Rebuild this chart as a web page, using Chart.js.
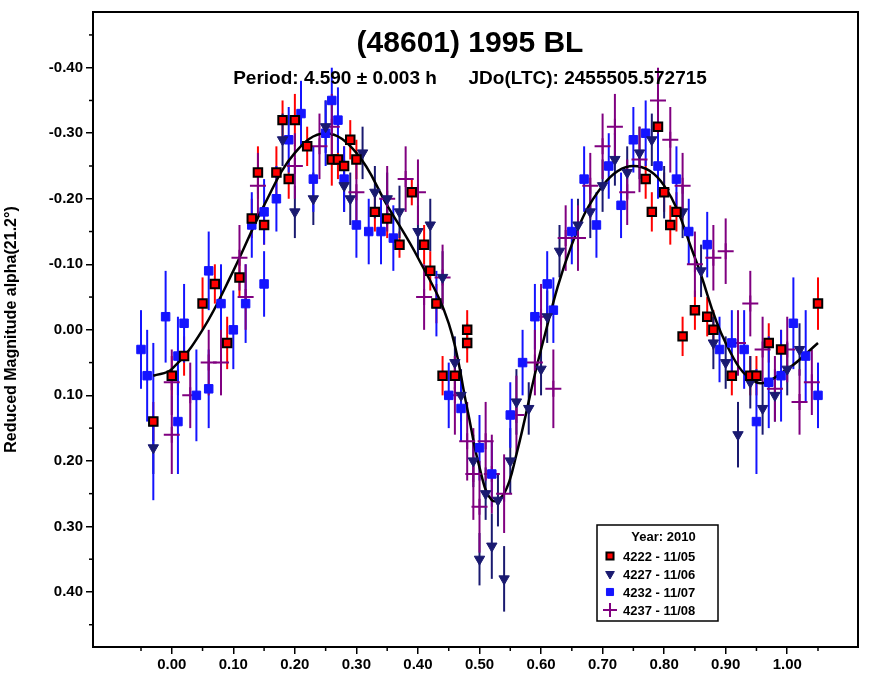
<!DOCTYPE html>
<html lang="en">
<head>
<meta charset="UTF-8">
<title>(48601) 1995 BL</title>
<script src="https://cdn.jsdelivr.net/npm/chart.js"></script>
<style>
  body { margin: 0; background: #fff; }
  canvas { display: block; }
</style>
</head>
<body>
<canvas id="lc" width="874" height="679"></canvas>
<script>
// [phase, reduced mag, error]
const s4222 = [[-0.03,0.14,0.03],[0.0,0.07,0.03],[0.02,0.04,0.03],[0.05,-0.04,0.04],[0.07,-0.07,0.03],[0.09,0.02,0.04],
  [0.11,-0.08,0.03],[0.13,-0.17,0.03],[0.14,-0.24,0.04],[0.15,-0.16,0.03],[0.17,-0.24,0.04],[0.18,-0.32,0.03],[0.19,-0.23,0.03],
  [0.20,-0.32,0.04],[0.22,-0.28,0.03],[0.26,-0.26,0.04],[0.27,-0.26,0.03],[0.28,-0.25,0.03],[0.29,-0.29,0.03],[0.30,-0.26,0.03],
  [0.33,-0.18,0.03],[0.35,-0.17,0.03],[0.37,-0.13,0.02],[0.39,-0.21,0.02],[0.41,-0.13,0.03],[0.42,-0.09,0.03],[0.43,-0.04,0.03],
  [0.44,0.07,0.03],[0.46,0.07,0.03],[0.48,0.0,0.03],[0.48,0.02,0.03],[0.77,-0.23,0.03],[0.78,-0.18,0.03],[0.79,-0.31,0.03],
  [0.80,-0.21,0.03],[0.81,-0.16,0.03],[0.82,-0.18,0.03],[0.83,0.01,0.03],[0.85,-0.03,0.03],[0.87,-0.02,0.03],[0.88,0.0,0.03],
  [0.91,0.07,0.03],[0.94,0.07,0.03],[0.95,0.07,0.03],[0.97,0.02,0.03],[0.99,0.03,0.03],[1.05,-0.04,0.04]];
const s4227 = [[-0.03,0.18,0.04],[0.18,-0.29,0.04],[0.20,-0.18,0.04],[0.23,-0.20,0.04],[0.25,-0.31,0.04],[0.28,-0.22,0.04],
  [0.29,-0.20,0.04],[0.31,-0.27,0.04],[0.33,-0.21,0.04],[0.35,-0.20,0.04],[0.37,-0.18,0.04],[0.40,-0.15,0.04],[0.42,-0.16,0.04],
  [0.44,-0.08,0.04],[0.46,0.05,0.04],[0.47,0.10,0.04],[0.49,0.20,0.04],[0.50,0.35,0.04],[0.51,0.25,0.04],[0.52,0.33,0.05],
  [0.53,0.26,0.04],[0.54,0.38,0.05],[0.55,0.20,0.05],[0.56,0.11,0.05],[0.58,0.12,0.04],[0.60,0.06,0.04],[0.61,-0.02,0.04],
  [0.63,-0.12,0.04],[0.66,-0.16,0.04],[0.68,-0.18,0.04],[0.70,-0.22,0.04],[0.72,-0.26,0.04],[0.74,-0.24,0.04],[0.76,-0.27,0.04],
  [0.78,-0.29,0.04],[0.80,-0.21,0.04],[0.83,-0.18,0.04],[0.86,-0.09,0.04],[0.88,0.02,0.04],[0.90,0.05,0.04],[0.92,0.16,0.05],
  [0.94,0.08,0.04],[0.96,0.12,0.04],[0.98,0.10,0.04],[1.00,0.06,0.04],[1.02,0.03,0.04]];
const s4232 = [[-0.05,0.03,0.06],[-0.04,0.07,0.07],[-0.03,0.14,0.12],[-0.01,-0.02,0.07],[0.01,0.14,0.08],[0.01,0.04,0.06],
  [0.02,-0.01,0.06],[0.04,0.10,0.07],[0.06,-0.09,0.06],[0.06,0.09,0.06],[0.08,-0.04,0.06],[0.10,0.0,0.06],[0.12,-0.04,0.06],
  [0.13,-0.16,0.05],[0.15,-0.18,0.05],[0.15,-0.07,0.05],[0.17,-0.20,0.05],[0.19,-0.29,0.05],[0.21,-0.33,0.05],[0.23,-0.23,0.05],
  [0.25,-0.30,0.05],[0.26,-0.35,0.05],[0.27,-0.32,0.05],[0.28,-0.23,0.05],[0.30,-0.16,0.05],[0.32,-0.15,0.05],[0.34,-0.15,0.05],
  [0.36,-0.14,0.05],[0.43,-0.04,0.05],[0.45,0.10,0.05],[0.47,0.12,0.05],[0.50,0.18,0.05],[0.52,0.22,0.05],[0.55,0.13,0.05],
  [0.57,0.05,0.05],[0.59,-0.02,0.05],[0.61,-0.07,0.05],[0.62,-0.03,0.05],[0.65,-0.15,0.05],[0.67,-0.23,0.05],[0.69,-0.16,0.05],
  [0.71,-0.25,0.05],[0.73,-0.19,0.05],[0.75,-0.29,0.05],[0.77,-0.30,0.05],[0.79,-0.25,0.05],[0.82,-0.23,0.05],[0.84,-0.15,0.05],
  [0.87,-0.13,0.05],[0.89,0.03,0.05],[0.91,0.02,0.05],[0.93,0.03,0.06],[0.95,0.14,0.08],[0.97,0.08,0.07],[0.99,0.07,0.07],
  [1.01,-0.01,0.07],[1.03,0.04,0.07],[1.05,0.10,0.05]];
const s4237 = [[0.0,0.08,0.05],[0.0,0.16,0.06],[0.03,0.10,0.05],[0.06,0.05,0.05],[0.08,0.05,0.05],[0.11,-0.11,0.05],
  [0.12,-0.05,0.05],[0.14,-0.22,0.05],[0.20,-0.25,0.05],[0.24,-0.28,0.05],[0.26,-0.31,0.05],[0.30,-0.21,0.05],[0.35,-0.20,0.05],
  [0.38,-0.23,0.05],[0.40,-0.21,0.05],[0.41,-0.05,0.05],[0.44,-0.08,0.05],[0.46,0.10,0.06],[0.48,0.17,0.06],[0.49,0.22,0.07],
  [0.50,0.27,0.07],[0.51,0.17,0.06],[0.52,0.22,0.06],[0.54,0.25,0.06],[0.56,0.13,0.06],[0.59,0.05,0.05],[0.60,-0.02,0.05],
  [0.62,0.09,0.06],[0.64,-0.14,0.05],[0.66,-0.14,0.05],[0.68,-0.22,0.05],[0.70,-0.28,0.05],[0.72,-0.31,0.05],[0.74,-0.21,0.05],
  [0.76,-0.26,0.05],[0.79,-0.35,0.05],[0.81,-0.29,0.05],[0.83,-0.22,0.05],[0.85,-0.10,0.05],[0.88,-0.11,0.05],[0.90,-0.12,0.05],
  [0.92,0.02,0.05],[0.94,-0.04,0.05],[0.96,0.03,0.05],[0.98,0.09,0.05],[1.00,0.03,0.05],[1.02,0.11,0.05],[1.04,0.08,0.05]];
const fitCurve = [[-0.03,0.07],[0.0,0.06],[0.05,0.0],[0.1,-0.09],[0.15,-0.19],[0.2,-0.27],[0.25,-0.30],[0.3,-0.27],
  [0.35,-0.19],[0.4,-0.11],[0.45,-0.01],[0.48,0.12],[0.5,0.21],[0.52,0.26],[0.54,0.25],[0.56,0.19],[0.6,0.03],
  [0.65,-0.13],[0.7,-0.22],[0.75,-0.25],[0.8,-0.22],[0.85,-0.11],[0.9,0.02],[0.95,0.08],[1.0,0.06],[1.05,0.02]];
const xTicks = [0, 0.1, 0.2, 0.3, 0.4, 0.5, 0.6, 0.7, 0.8, 0.9, 1.0];
const yTicks = [-0.4, -0.3, -0.2, -0.1, 0, 0.1, 0.2, 0.3, 0.4];
const legendLabels = ["4222 - 11/05", "4227 - 11/06", "4232 - 11/07", "4237 - 11/08"];

const toPts = arr => arr.map(p => ({ x: p[0], y: p[1], e: p[2] }));
const font = { family: "Arial, 'Liberation Sans', sans-serif", weight: "bold" };

const series = [
  { label: legendLabels[0], data: toPts(s4222), pointStyle: "rect", pointRadius: 6, backgroundColor: "#ff0000", borderColor: "#000", borderWidth: 2, errColor: "#ff0000" },
  { label: legendLabels[1], data: toPts(s4227), pointStyle: "triangle", rotation: 180, pointRadius: 6, backgroundColor: "#1a1a70", borderColor: "#1a1a70", borderWidth: 1, errColor: "#1a1a70" },
  { label: legendLabels[2], data: toPts(s4232), pointStyle: "rect", pointRadius: 6, backgroundColor: "#1414ff", borderColor: "#1414ff", borderWidth: 1, errColor: "#1414ff" },
  { label: legendLabels[3], data: toPts(s4237), pointStyle: "cross", pointRadius: 8, backgroundColor: "#800080", borderColor: "#800080", borderWidth: 2, errColor: "#800080" }
];

const errorBars = {
  id: "errorBars",
  beforeDatasetsDraw(chart) {
    const ctx = chart.ctx, xs = chart.scales.x, ys = chart.scales.y;
    ctx.save();
    chart.data.datasets.forEach(ds => {
      if (!ds.errColor) return;
      ctx.strokeStyle = ds.errColor;
      ctx.lineWidth = 2;
      ds.data.forEach(p => {
        const x = xs.getPixelForValue(p.x);
        ctx.beginPath();
        ctx.moveTo(x, ys.getPixelForValue(p.y - p.e));
        ctx.lineTo(x, ys.getPixelForValue(p.y + p.e));
        ctx.stroke();
      });
    });
    ctx.restore();
  }
};

const decor = {
  id: "decor",
  afterDraw(chart) {
    const ctx = chart.ctx, a = chart.chartArea, xs = chart.scales.x, ys = chart.scales.y;
    ctx.save();
    // frame
    ctx.strokeStyle = "#000"; ctx.lineWidth = 2;
    ctx.strokeRect(a.left, a.top, a.right - a.left, a.bottom - a.top);
    // minor ticks
    ctx.lineWidth = 1.5;
    for (let v = -0.05; v <= 1.1; v += 0.1) {
      const x = xs.getPixelForValue(v);
      ctx.beginPath(); ctx.moveTo(x, a.bottom); ctx.lineTo(x, a.bottom + 4); ctx.stroke();
    }
    for (let v = -0.45; v <= 0.46; v += 0.1) {
      const y = ys.getPixelForValue(v);
      ctx.beginPath(); ctx.moveTo(a.left, y); ctx.lineTo(a.left - 4, y); ctx.stroke();
    }
    // titles
    ctx.fillStyle = "#000"; ctx.textAlign = "center"; ctx.textBaseline = "middle";
    ctx.font = "bold 30px Arial, 'Liberation Sans', sans-serif";
    ctx.fillText("(48601) 1995 BL", 470, 44);
    ctx.font = "bold 19px Arial, 'Liberation Sans', sans-serif";
    ctx.fillText("Period: 4.590 \u00b1 0.003 h      JDo(LTC): 2455505.572715", 470, 79);
    // legend
    const lx = 597, ly = 525, lw = 121, lh = 96;
    ctx.fillStyle = "#fff"; ctx.fillRect(lx, ly, lw, lh);
    ctx.strokeStyle = "#000"; ctx.lineWidth = 1.5; ctx.strokeRect(lx, ly, lw, lh);
    ctx.fillStyle = "#000"; ctx.font = "bold 13px Arial, 'Liberation Sans', sans-serif";
    ctx.fillText("Year: 2010", lx + lw / 2 + 6, ly + 12);
    ctx.textAlign = "left";
    chart.data.datasets.slice(0, 4).forEach((ds, i) => {
      const y = ly + 31 + i * 18;
      ctx.fillStyle = ds.backgroundColor; ctx.strokeStyle = ds.borderColor; ctx.lineWidth = ds.borderWidth;
      Chart.helpers.drawPoint(ctx, { pointStyle: ds.pointStyle, rotation: ds.rotation || 0, radius: ds.pointRadius - 1, borderWidth: ds.borderWidth }, lx + 13, y);
      ctx.fillStyle = "#000";
      ctx.fillText(ds.label, lx + 26, y + 1);
    });
    ctx.restore();
  }
};

new Chart(document.getElementById("lc"), {
  type: "scatter",
  data: {
    datasets: [
      ...series,
      { label: "fit", type: "line", data: fitCurve.map(p => ({ x: p[0], y: p[1] })), borderColor: "#000", borderWidth: 2.5, pointRadius: 0, tension: 0.4, fill: false }
    ]
  },
  options: {
    responsive: false,
    animation: false,
    layout: { padding: { top: 10, right: 16 } },
    plugins: { legend: { display: false }, tooltip: { enabled: false } },
    scales: {
      x: {
        type: "linear", min: -0.128, max: 1.115,
        afterBuildTicks: s => { s.ticks = xTicks.map(v => ({ value: v })); },
        afterFit: s => { s.height = 32; },
        grid: { drawOnChartArea: false, tickLength: 7, color: "#000", lineWidth: 1.5 },
        border: { display: false },
        ticks: { color: "#000", font: { ...font, size: 15 }, padding: 2, callback: v => v.toFixed(2) }
      },
      y: {
        type: "linear", min: -0.485, max: 0.484, reverse: true,
        afterBuildTicks: s => { s.ticks = yTicks.map(v => ({ value: v })); },
        afterFit: s => { s.width = 93; },
        grid: { drawOnChartArea: false, tickLength: 7, color: "#000", lineWidth: 1.5 },
        border: { display: false },
        title: { display: true, text: "Reduced Magnitude alpha(21.2\u00b0)", color: "#000", font: { ...font, size: 16 }, padding: 2 },
        ticks: { color: "#000", font: { ...font, size: 15 }, padding: 3, callback: v => v.toFixed(2) }
      }
    }
  },
  plugins: [errorBars, decor]
});
</script>
</body>
</html>
